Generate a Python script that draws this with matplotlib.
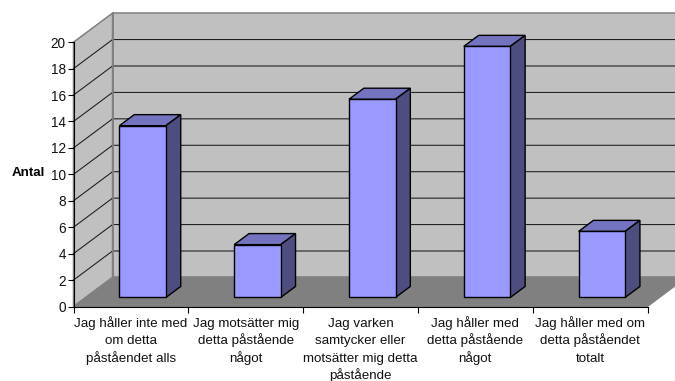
#coding:utf-8
import matplotlib
matplotlib.use('Agg')
import matplotlib.pyplot as plt
from matplotlib.patches import Polygon

categories = ['Jag håller inte med\nom detta\npåståendet alls',
              'Jag motsätter mig\ndetta påstående\nnågot',
              'Jag varken\nsamtycker eller\nmotsätter mig detta\npåstående',
              'Jag håller med\ndetta påstående\nnågot',
              'Jag håller med om\ndetta påståendet\ntotalt']
values = [13, 4, 15, 19, 5]
y_ticks = list(range(0, 21, 2))

# 3d look: one unit of depth moves a point this far in data units
DEPTH_X = 0.34
DEPTH_Y = 2.2
BAR_WIDTH = 0.405
BAR_FRONT = 0.31
BAR_BACK = 0.69
WALL_RIGHT = 5.24

FIG_W, FIG_H = 675, 381


def project(x, y, depth):
    return (x + depth * DEPTH_X, y + depth * DEPTH_Y)


def face(ax, points, color, edge, lw=0.8, z=2):
    ax.add_patch(Polygon([project(*p) for p in points], closed=True, facecolor=color,
                         edgecolor=edge, linewidth=lw, zorder=z, clip_on=False,
                         joinstyle='miter'))


def draw_bar(ax, center, value):
    x0 = center - BAR_WIDTH / 2
    x1 = center + BAR_WIDTH / 2
    f = BAR_FRONT
    b = BAR_BACK
    face(ax, [(x0, value, f), (x1, value, f), (x1, value, b), (x0, value, b)], '#7373BF', 'black', 1.0, 3)
    face(ax, [(x1, 0, f), (x1, 0, b), (x1, value, b), (x1, value, f)], '#4D4D80', 'black', 1.0, 3)
    face(ax, [(x0, 0, f), (x1, 0, f), (x1, value, f), (x0, value, f)], '#9999FF', 'black', 1.0, 3)


plt.rcParams['font.family'] = ['Liberation Sans', 'DejaVu Sans']
fig = plt.figure(figsize=(FIG_W / 100, FIG_H / 100), dpi=100)
ax = fig.add_axes([73.5 / FIG_W, 1 - 306.5 / FIG_H, 574 / FIG_W, 264.3 / FIG_H])
ax.set_xlim(0, 5)
ax.set_ylim(0, 20)
ax.patch.set_visible(False)

# walls and floor
n = len(categories)
face(ax, [(0, 0, 0), (0, 0, 1), (0, 20, 1), (0, 20, 0)], '#C0C0C0', '#808080', 1.1, 0)
face(ax, [(0, 0, 1), (WALL_RIGHT, 0, 1), (WALL_RIGHT, 20, 1), (0, 20, 1)], '#C0C0C0', '#808080', 1.1, 0)
face(ax, [(0, 0, 0), (n, 0, 0), (n, 0, 1), (0, 0, 1)], '#808080', '#808080', 0.8, 1)

# gridlines run along the side wall and across the back wall
for t in y_ticks[1:-1]:
    xs, ys = zip(project(0, t, 0), project(0, t, 1), project(WALL_RIGHT, t, 1))
    ax.plot(xs, ys, color='#1A1A1A', lw=0.75, zorder=1, clip_on=False)
xs, ys = zip(project(0, 0, 1), project(0, 20, 1))
ax.plot(xs, ys, color='#808080', lw=1.3, zorder=1, clip_on=False)

for i, v in enumerate(values):
    draw_bar(ax, i + 0.497, v)

for side in ['top', 'right']:
    ax.spines[side].set_visible(False)
for side in ['left', 'bottom']:
    ax.spines[side].set_linewidth(0.8)
    ax.spines[side].set_zorder(5)

ax.set_yticks(y_ticks)
ax.tick_params(axis='y', which='major', direction='out', length=4, width=0.8, pad=1.5, labelsize=9.8, labelcolor='#111111')
ax.set_xticks(range(n + 1))
ax.set_xticklabels([])
ax.tick_params(axis='x', which='major', direction='out', length=4, width=0.8)

# one text per line, multiline text spaces lines unevenly around descenders
for i, label in enumerate(categories):
    for j, line in enumerate(label.split('\n')):
        ax.annotate(line, xy=(i + 0.5, 0), xytext=(0, -20.5 - j * 17.4), textcoords='offset pixels',
                    ha='center', va='baseline', fontsize=9.6, color='#111111', annotation_clip=False)

fig.text(28.5 / FIG_W, 1 - 173 / FIG_H, 'Antal', fontsize=9.6, fontweight='bold', ha='center', va='center')

fig.savefig('out.png', dpi=100)
